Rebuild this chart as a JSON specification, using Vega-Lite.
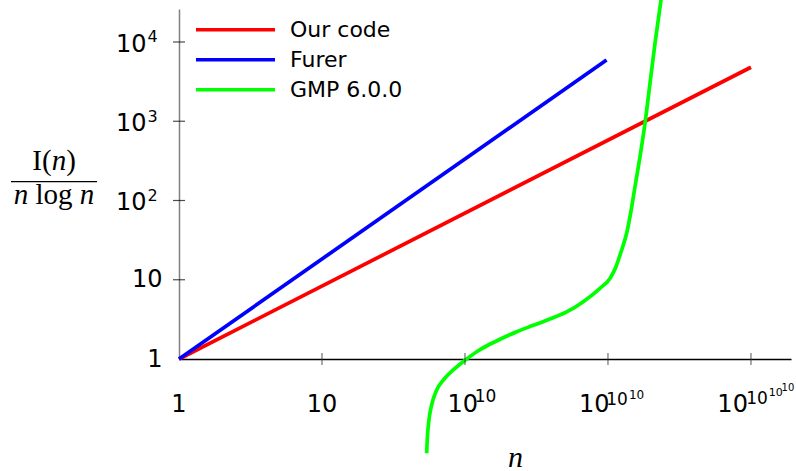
{
  "$schema": "https://vega.github.io/schema/vega-lite/v6.json",
  "width": 612,
  "height": 350,
  "autosize": "none",
  "padding": {"left": 179, "top": 9, "right": 5, "bottom": 112},
  "background": "white",
  "config": {"view": {"stroke": null}, "font": "DejaVu Sans"},
  "data": {"values": [{}]},
  "resolve": {"axis": {"x": "independent", "y": "independent"}},
  "layer": [
    {
      "data": {"values": [
        {"series": "Our code", "level": 0, "value": 1},
        {"series": "Our code", "level": 4, "value": 4800},
        {"series": "Furer", "level": 0, "value": 1},
        {"series": "Furer", "level": 2.99, "value": 5930},
        {"series": "GMP 6.0.0", "level": 1.732, "value": 0.0646},
        {"series": "GMP 6.0.0", "level": 1.736, "value": 0.095},
        {"series": "GMP 6.0.0", "level": 1.748, "value": 0.17},
        {"series": "GMP 6.0.0", "level": 1.767, "value": 0.263},
        {"series": "GMP 6.0.0", "level": 1.802, "value": 0.406},
        {"series": "GMP 6.0.0", "level": 1.848, "value": 0.543},
        {"series": "GMP 6.0.0", "level": 1.918, "value": 0.727},
        {"series": "GMP 6.0.0", "level": 2.0, "value": 0.963},
        {"series": "GMP 6.0.0", "level": 2.082, "value": 1.236},
        {"series": "GMP 6.0.0", "level": 2.163, "value": 1.502},
        {"series": "GMP 6.0.0", "level": 2.245, "value": 1.774},
        {"series": "GMP 6.0.0", "level": 2.362, "value": 2.21},
        {"series": "GMP 6.0.0", "level": 2.478, "value": 2.66},
        {"series": "GMP 6.0.0", "level": 2.594, "value": 3.2},
        {"series": "GMP 6.0.0", "level": 2.711, "value": 3.92},
        {"series": "GMP 6.0.0", "level": 2.827, "value": 5.29},
        {"series": "GMP 6.0.0", "level": 2.944, "value": 7.8},
        {"series": "GMP 6.0.0", "level": 3.014, "value": 10.4},
        {"series": "GMP 6.0.0", "level": 3.056, "value": 14.6},
        {"series": "GMP 6.0.0", "level": 3.084, "value": 20.5},
        {"series": "GMP 6.0.0", "level": 3.105, "value": 26.7},
        {"series": "GMP 6.0.0", "level": 3.131, "value": 38.9},
        {"series": "GMP 6.0.0", "level": 3.154, "value": 62.5},
        {"series": "GMP 6.0.0", "level": 3.189, "value": 149},
        {"series": "GMP 6.0.0", "level": 3.224, "value": 357},
        {"series": "GMP 6.0.0", "level": 3.259, "value": 942},
        {"series": "GMP 6.0.0", "level": 3.294, "value": 3013},
        {"series": "GMP 6.0.0", "level": 3.329, "value": 9634},
        {"series": "GMP 6.0.0", "level": 3.371, "value": 33884},
        {"series": "GMP 6.0.0", "level": 3.385, "value": 52360}
      ]},
      "mark": {"type": "line", "strokeWidth": 3.7, "interpolate": "monotone", "clip": false},
      "encoding": {
        "x": {"field": "level", "type": "quantitative",
              "scale": {"type": "linear", "domain": [0, 4.28], "nice": false, "zero": false},
              "axis": {"labels": false, "ticks": false, "grid": false, "domainColor": "black", "domainWidth": 1.3,
                       "title": "n", "titleFont": "Liberation Serif", "titleFontStyle": "italic", "titleFontWeight": "normal",
                       "titleFontSize": 30, "titleColor": "black", "titleX": 336, "titleY": 107, "titleBaseline": "alphabetic", "titleAlign": "center"}},
        "y": {"field": "value", "type": "quantitative",
              "scale": {"type": "log", "domain": [1, 26080], "nice": false},
              "axis": {"values": [1, 10],
                       "ticks": false, "tickSize": 0, "grid": false, "domainColor": "#808080", "domainWidth": 1.5,
                       "labelFont": "DejaVu Sans", "labelFontSize": 24, "labelColor": "black", "labelPadding": 17, "title": null}},
        "color": {"field": "series", "type": "nominal",
                  "scale": {"domain": ["Our code", "Furer", "GMP 6.0.0"], "range": ["#ff0000", "#0000ff", "#00ff00"]},
                  "legend": {"orient": "none", "legendX": 15, "legendY": 7, "title": null, "symbolType": "stroke",
                             "symbolSize": 6241, "symbolStrokeWidth": 3.5, "clipHeight": 27.5, "rowPadding": 2,
                             "labelFont": "DejaVu Sans", "labelFontSize": 22, "labelColor": "black", "labelOffset": 13,
                             "padding": 0, "offset": 0}}
      }
    },
    {
      "data": {"values": [{"level": 1}, {"level": 2}, {"level": 3}, {"level": 4}]},
      "mark": {"type": "tick", "orient": "vertical", "size": 12, "thickness": 1.2, "color": "#333333"},
      "encoding": {
        "x": {"field": "level", "type": "quantitative", "axis": null},
        "y": {"datum": 1, "type": "quantitative", "axis": null}
      }
    },
    {
      "data": {"values": [{"value": 10}, {"value": 100}, {"value": 1000}, {"value": 10000}]},
      "mark": {"type": "tick", "orient": "horizontal", "size": 12, "thickness": 1.2, "color": "black"},
      "encoding": {
        "x": {"datum": 0, "type": "quantitative", "axis": null},
        "y": {"field": "value", "type": "quantitative", "axis": null}
      }
    },
    {
      "data": {"values": [{"value": 100, "exp": "2"}, {"value": 1000, "exp": "3"}, {"value": 10000, "exp": "4"}]},
      "layer": [
        {"mark": {"type": "text", "text": "10", "font": "DejaVu Sans", "fontSize": 24, "align": "right", "baseline": "alphabetic", "dx": -32.5, "dy": 10, "color": "black"},
         "encoding": {"x": {"datum": 0, "type": "quantitative", "axis": null}, "y": {"field": "value", "type": "quantitative", "axis": null}}},
        {"mark": {"type": "text", "font": "DejaVu Sans", "fontSize": 16, "align": "left", "baseline": "alphabetic", "dx": -31.5, "dy": 0.5, "color": "black"},
         "encoding": {"x": {"datum": 0, "type": "quantitative", "axis": null}, "y": {"field": "value", "type": "quantitative", "axis": null}, "text": {"field": "exp"}}}
      ]
    },
    {"mark": {"type": "text", "text": "1", "font": "DejaVu Sans", "fontSize": 24, "align": "center", "baseline": "alphabetic", "dy": 53, "color": "black"},
     "encoding": {"x": {"datum": 0, "type": "quantitative", "axis": null}, "y": {"datum": 1, "type": "quantitative", "axis": null}}},
    {"mark": {"type": "text", "text": "10", "font": "DejaVu Sans", "fontSize": 24, "align": "center", "baseline": "alphabetic", "dy": 53, "color": "black"},
     "encoding": {"x": {"datum": 1, "type": "quantitative", "axis": null}, "y": {"datum": 1, "type": "quantitative", "axis": null}}},
    {"mark": {"type": "text", "text": "10", "font": "DejaVu Sans", "fontSize": 24, "align": "left", "baseline": "alphabetic", "dx": -17.6, "dy": 53, "color": "black"},
     "encoding": {"x": {"datum": 2, "type": "quantitative", "axis": null}, "y": {"datum": 1, "type": "quantitative", "axis": null}}},
    {"mark": {"type": "text", "text": "10", "font": "DejaVu Sans", "fontSize": 17, "align": "left", "baseline": "alphabetic", "dx": 9.8, "dy": 43, "color": "black"},
     "encoding": {"x": {"datum": 2, "type": "quantitative", "axis": null}, "y": {"datum": 1, "type": "quantitative", "axis": null}}},
    {"mark": {"type": "text", "text": "10", "font": "DejaVu Sans", "fontSize": 24, "align": "left", "baseline": "alphabetic", "dx": -29, "dy": 53, "color": "black"},
     "encoding": {"x": {"datum": 3, "type": "quantitative", "axis": null}, "y": {"datum": 1, "type": "quantitative", "axis": null}}},
    {"mark": {"type": "text", "text": "10", "font": "DejaVu Sans", "fontSize": 17, "align": "left", "baseline": "alphabetic", "dx": -1.8, "dy": 46, "color": "black"},
     "encoding": {"x": {"datum": 3, "type": "quantitative", "axis": null}, "y": {"datum": 1, "type": "quantitative", "axis": null}}},
    {"mark": {"type": "text", "text": "10", "font": "DejaVu Sans", "fontSize": 12, "align": "left", "baseline": "alphabetic", "dx": 21, "dy": 40, "color": "black"},
     "encoding": {"x": {"datum": 3, "type": "quantitative", "axis": null}, "y": {"datum": 1, "type": "quantitative", "axis": null}}},
    {"mark": {"type": "text", "text": "10", "font": "DejaVu Sans", "fontSize": 24, "align": "left", "baseline": "alphabetic", "dx": -33.6, "dy": 53, "color": "black"},
     "encoding": {"x": {"datum": 4, "type": "quantitative", "axis": null}, "y": {"datum": 1, "type": "quantitative", "axis": null}}},
    {"mark": {"type": "text", "text": "10", "font": "DejaVu Sans", "fontSize": 17, "align": "left", "baseline": "alphabetic", "dx": -4.7, "dy": 45, "color": "black"},
     "encoding": {"x": {"datum": 4, "type": "quantitative", "axis": null}, "y": {"datum": 1, "type": "quantitative", "axis": null}}},
    {"mark": {"type": "text", "text": "10", "font": "DejaVu Sans", "fontSize": 11, "align": "left", "baseline": "alphabetic", "dx": 17.8, "dy": 37, "color": "black"},
     "encoding": {"x": {"datum": 4, "type": "quantitative", "axis": null}, "y": {"datum": 1, "type": "quantitative", "axis": null}}},
    {"mark": {"type": "text", "text": "10", "font": "DejaVu Sans", "fontSize": 10, "align": "left", "baseline": "alphabetic", "dx": 30.6, "dy": 32, "color": "black"},
     "encoding": {"x": {"datum": 4, "type": "quantitative", "axis": null}, "y": {"datum": 1, "type": "quantitative", "axis": null}}},
    {"mark": {"type": "text", "text": "I(", "font": "Liberation Serif", "fontSize": 29, "align": "right", "baseline": "alphabetic", "dx": -7.25, "color": "black"},
     "encoding": {"x": {"datum": -0.84, "type": "quantitative", "axis": null}, "y": {"datum": 246, "type": "quantitative", "axis": null}}},
    {"mark": {"type": "text", "text": "n", "font": "Liberation Serif", "fontStyle": "italic", "fontSize": 29, "align": "center", "baseline": "alphabetic", "color": "black"},
     "encoding": {"x": {"datum": -0.84, "type": "quantitative", "axis": null}, "y": {"datum": 246, "type": "quantitative", "axis": null}}},
    {"mark": {"type": "text", "text": ")", "font": "Liberation Serif", "fontSize": 29, "align": "left", "baseline": "alphabetic", "dx": 7.25, "color": "black"},
     "encoding": {"x": {"datum": -0.84, "type": "quantitative", "axis": null}, "y": {"datum": 246, "type": "quantitative", "axis": null}}},
    {"mark": {"type": "rule", "strokeWidth": 1.3, "color": "black"},
     "encoding": {"x": {"datum": -1.175, "type": "quantitative", "axis": null}, "x2": {"datum": -0.573}, "y": {"datum": 172.7, "type": "quantitative", "axis": null}}},
    {"mark": {"type": "text", "text": "log", "font": "Liberation Serif", "fontSize": 29, "align": "center", "baseline": "alphabetic", "color": "black"},
     "encoding": {"x": {"datum": -0.874, "type": "quantitative", "axis": null}, "y": {"datum": 90.3, "type": "quantitative", "axis": null}}},
    {"mark": {"type": "text", "text": "n", "font": "Liberation Serif", "fontStyle": "italic", "fontSize": 29, "align": "right", "baseline": "alphabetic", "dx": -25.8, "color": "black"},
     "encoding": {"x": {"datum": -0.874, "type": "quantitative", "axis": null}, "y": {"datum": 90.3, "type": "quantitative", "axis": null}}},
    {"mark": {"type": "text", "text": "n", "font": "Liberation Serif", "fontStyle": "italic", "fontSize": 29, "align": "left", "baseline": "alphabetic", "dx": 25.8, "color": "black"},
     "encoding": {"x": {"datum": -0.874, "type": "quantitative", "axis": null}, "y": {"datum": 90.3, "type": "quantitative", "axis": null}}}
  ]
}
